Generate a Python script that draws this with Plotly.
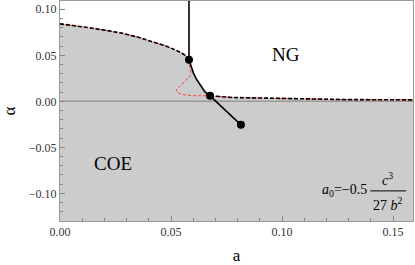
import plotly.graph_objects as go

# ---- data ----
upper_a = [0.0, 0.0064, 0.01275, 0.020, 0.0278, 0.035, 0.0428, 0.048, 0.0518, 0.0550, 0.0571, 0.0581]
upper_alpha = [0.0842, 0.0823, 0.0801, 0.0774, 0.0741, 0.0698, 0.0643, 0.0598, 0.0560, 0.0522, 0.0487, 0.0451]

solid_a = [0.0581, 0.0590, 0.0601, 0.0615, 0.0631, 0.0653, 0.0676]
solid_alpha = [0.0451, 0.0375, 0.0307, 0.0240, 0.0179, 0.0103, 0.0060]

right_a = [0.0676, 0.078, 0.093, 0.108, 0.129, 0.159]
right_alpha = [0.0060, 0.0041, 0.0035, 0.0027, 0.0019, 0.0016]

red_a = [0.0581, 0.0589, 0.0560, 0.0523, 0.0530, 0.0559, 0.0613, 0.0676]
red_alpha = [0.0451, 0.0289, 0.0210, 0.0125, 0.0095, 0.0070, 0.0060, 0.0060]

tail_a = [0.0676, 0.0815]
tail_alpha = [0.0060, -0.0255]

dots_a = [0.0581, 0.0676, 0.0815]
dots_alpha = [0.0451, 0.0060, -0.0255]

vert_a = [0.0581, 0.0581]
vert_alpha = [0.0451, 0.12]

x_range = [0.0, 0.159]
y_range = [-0.13, 0.109]
x_ticks = [0.0, 0.05, 0.10, 0.15]
x_ticktext = ["0.00", "0.05", "0.10", "0.15"]
y_ticks = [-0.10, -0.05, 0.0, 0.05, 0.10]
y_ticktext = ["\u22120.10", "\u22120.05", "0.00", "0.05", "0.10"]

serif = "Liberation Serif"

fig = go.Figure()

# gray region (COE)
fill_a = upper_a + solid_a[1:] + right_a[1:] + [x_range[1], x_range[0]]
fill_alpha = upper_alpha + solid_alpha[1:] + right_alpha[1:] + [y_range[0], y_range[0]]
fig.add_trace(go.Scatter(x=fill_a, y=fill_alpha, mode="lines", fill="toself",
                         fillcolor="#cccccc", line=dict(width=0), hoverinfo="skip"))

# zero line
fig.add_trace(go.Scatter(x=x_range, y=[0, 0], mode="lines",
                         line=dict(color="#999999", width=1.5), hoverinfo="skip"))

# red dashed spinodal curves
fig.add_trace(go.Scatter(x=upper_a, y=upper_alpha, mode="lines",
                         line=dict(color="#ff3b3b", width=1, dash="3px,2px")))
fig.add_trace(go.Scatter(x=red_a, y=red_alpha, mode="lines",
                         line=dict(color="#ff3b3b", width=1, dash="3px,2px")))
fig.add_trace(go.Scatter(x=right_a, y=right_alpha, mode="lines",
                         line=dict(color="#ff3b3b", width=1, dash="3px,2px")))

# black dashed boundaries
fig.add_trace(go.Scatter(x=upper_a, y=upper_alpha, mode="lines",
                         line=dict(color="black", width=1.6, dash="4px,2px")))
fig.add_trace(go.Scatter(x=right_a, y=right_alpha, mode="lines",
                         line=dict(color="black", width=1.6, dash="4px,2px")))

# solid lines
fig.add_trace(go.Scatter(x=vert_a, y=vert_alpha, mode="lines",
                         line=dict(color="black", width=1.6)))
fig.add_trace(go.Scatter(x=solid_a, y=solid_alpha, mode="lines",
                         line=dict(color="black", width=1.6)))
fig.add_trace(go.Scatter(x=tail_a, y=tail_alpha, mode="lines",
                         line=dict(color="black", width=1.6)))

# points
fig.add_trace(go.Scatter(x=dots_a, y=dots_alpha, mode="markers",
                         marker=dict(color="black", size=8)))

# labels
fig.add_annotation(x=0.1018, y=0.0505, text="NG", showarrow=False,
                   font=dict(family=serif, size=19, color="black"))
fig.add_annotation(x=0.0239, y=-0.068, text="COE", showarrow=False,
                   font=dict(family=serif, size=19, color="black"))
fig.add_annotation(x=0.1394, y=-0.0973, xanchor="right", text="<i>a</i><sub>0</sub>=\u22120.5",
                   showarrow=False, font=dict(family=serif, size=14, color="black"))
fig.add_annotation(x=0.1474, y=-0.0840, text="<i>c</i><sup>3</sup>", showarrow=False,
                   font=dict(family=serif, size=14, color="black"))
fig.add_annotation(x=0.1477, y=-0.1120, text="27 <i>b</i><sup>2</sup>", showarrow=False,
                   font=dict(family=serif, size=14, color="black"))
fig.add_shape(type="line", x0=0.1398, x1=0.1559, y0=-0.0973, y1=-0.0973,
              line=dict(color="black", width=1))

fig.update_layout(
    width=415, height=265,
    margin=dict(l=60, r=2, t=1, b=44),
    paper_bgcolor="white", plot_bgcolor="white",
    showlegend=False,
    font=dict(family=serif),
    xaxis=dict(range=x_range, tickvals=x_ticks, ticktext=x_ticktext,
               ticks="inside", ticklen=5, tickcolor="#888888", showgrid=False, zeroline=False,
               showline=True, linecolor="#999999", mirror=True, linewidth=1,
               minor=dict(dtick=0.01, ticks="inside", ticklen=3, tickcolor="#888888"),
               tickfont=dict(family=serif, size=12, color="#333333"),
               title=dict(text="a", font=dict(family=serif, size=17, color="black"), standoff=10)),
    yaxis=dict(range=y_range, tickvals=y_ticks, ticktext=y_ticktext,
               ticks="inside", ticklen=5, tickcolor="#888888", showgrid=False, zeroline=False,
               showline=True, linecolor="#999999", mirror=True, linewidth=1,
               minor=dict(dtick=0.01, ticks="inside", ticklen=3, tickcolor="#888888"),
               tickfont=dict(family=serif, size=12, color="#333333"),
               title=dict(text="\u03b1", font=dict(family=serif, size=17, color="black"), standoff=8)),
)

fig.write_html("out.html", config={"displayModeBar": False},
               post_script="document.body.style.margin='0';")
